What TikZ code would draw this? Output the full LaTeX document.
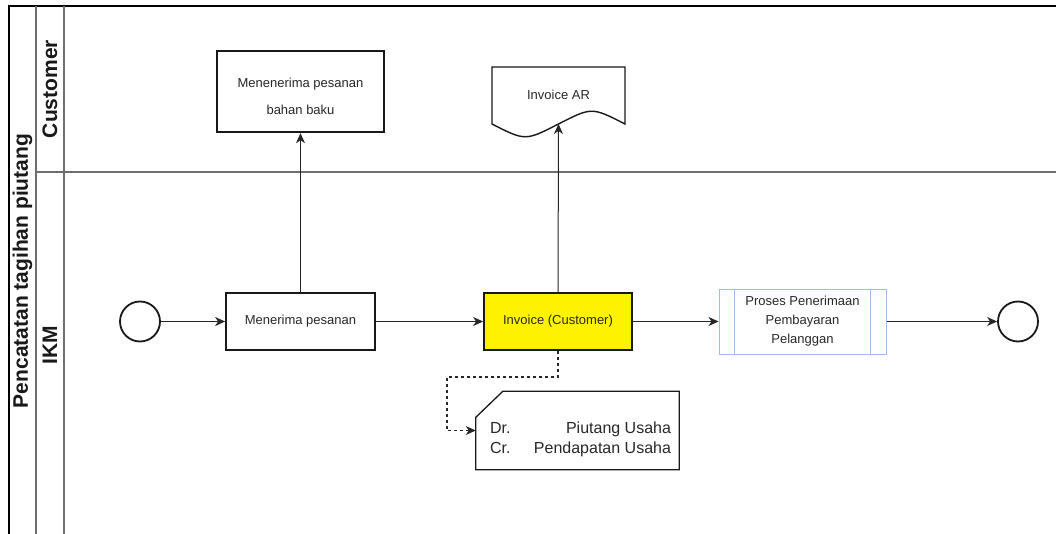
\documentclass[tikz,border=0pt]{standalone}
\usepackage{fontspec}
\setmainfont{Liberation Sans}
\usetikzlibrary{arrows.meta}
\definecolor{lanegray}{RGB}{110,110,110}
\definecolor{procblue}{RGB}{160,190,235}
\definecolor{txt}{RGB}{40,40,40}
\begin{document}
\begin{tikzpicture}[x=1pt,y=-1pt,
  arr/.style={draw=black!85, line width=1pt, -{Stealth[length=10pt,width=9pt,inset=3pt]}},
  box/.style={draw=black!90, line width=1.8pt, rectangle, inner sep=0pt, align=center, text=txt, font=\fontsize{13}{19}\selectfont},
  ev/.style={draw=black!90, line width=1.8pt, circle, minimum size=40pt, inner sep=0pt},
  lane/.style={line width=1.3pt, draw=lanegray},
  lbl/.style={rotate=90, font=\fontsize{21}{25}\selectfont\bfseries, text=black!90},
  small/.style={font=\fontsize{13}{19}\selectfont, text=txt, inner sep=0pt},
  anntxt/.style={font=\fontsize{16}{20}\selectfont, text=txt, inner sep=0pt}
]
\useasboundingbox (0,0) rectangle (1056,534);
\fill[white] (0,0) rectangle (1056,534);

% pool and lanes
\draw[line width=1.5pt, black] (9,534) -- (9,6) -- (1056,6);
\draw[lane] (36,6) -- (36,534);
\draw[lane] (64,6) -- (64,534);
\draw[lane] (36,172) -- (1056,172);
\node[lbl] (pool) at (22.5,271) {Pencatatan tagihan piutang};
\node[lbl] (lcust) at (50,89) {Customer};
\node[lbl] (likm) at (50,345) {IKM};

% events
\node[ev] (start) at (140,321.5) {};
\node[ev] (end) at (1018,321.5) {};

% tasks
\node[box, minimum width=149pt, minimum height=57pt] (m1) at (300.5,321.5) {Menerima pesanan};
\node[box, line width=2.4pt, minimum width=167pt, minimum height=81pt] (bb) at (300.5,91.5) {};
\node[small, align=center, font=\fontsize{13}{27}\selectfont] (bbt) at (300.5,96.5) {Menenerima pesanan\\bahan baku};
\node[box, fill=yellow, minimum width=148pt, minimum height=57pt] (inv) at (558,321.5) {Invoice (Customer)};
\node[box, draw=procblue, line width=1pt, minimum width=167pt, minimum height=65pt] (proc) at (802.5,321.5) {Proses Penerimaan\\Pembayaran\\Pelanggan};
\draw[procblue, line width=1pt] ([xshift=16pt]proc.north west) -- ([xshift=16pt]proc.south west);
\draw[procblue, line width=1pt] ([xshift=-16pt]proc.north east) -- ([xshift=-16pt]proc.south east);

% document Invoice AR
\draw[black!90, line width=1.4pt, fill=white] (492,67) -- (625,67) -- (625,124)
  .. controls (591.75,107) .. (558.5,124)
  .. controls (525.25,141) .. (492,124) -- cycle;
\coordinate (docb) at (558.5,124);
\node[small] (doct) at (558.5,95) {Invoice AR};

% annotation
\node[minimum width=203pt, minimum height=78pt, inner sep=0pt] (ann) at (577.5,430.5) {};
\draw[black!90, line width=1.3pt] ([xshift=27pt]ann.north west) -- (ann.north east) -- (ann.south east) -- (ann.south west) -- ([yshift=-26pt]ann.north west) -- cycle;
\node[anntxt] (dr) at (580.5,429) {\makebox[181pt]{Dr.\hfill Piutang Usaha}};
\node[anntxt] (cr) at (580.5,449) {\makebox[181pt]{Cr.\hfill Pendapatan Usaha}};

% connectors
\draw[arr] (start) -- (m1);
\draw[arr] (m1.north) -- (bb.south);
\draw[arr] (m1) -- (inv);
\draw[arr] (inv.north) -- (docb);
\draw[arr] (inv) -- (proc);
\draw[arr] (proc) -- (end);
\coordinate (d1) at (447,377);
\draw[arr, dash pattern=on 3pt off 3pt, line width=1.3pt] (inv.south) |- (d1) |- (ann.west);
\end{tikzpicture}
\end{document}
